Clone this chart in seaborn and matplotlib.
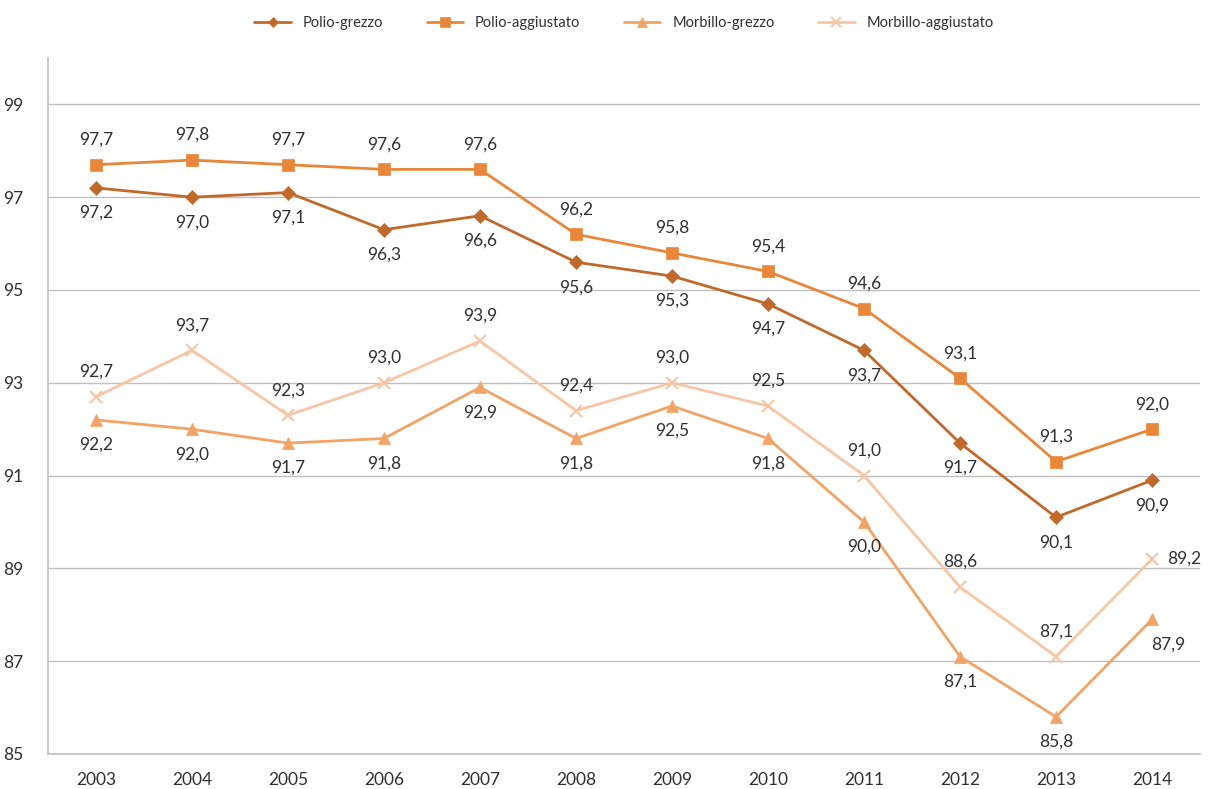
import seaborn as sns
import matplotlib.pyplot as plt
import pandas as pd

anni = ['2003', '2004', '2005', '2006', '2007', '2008', '2009', '2010', '2011', '2012', '2013', '2014']
polio_grezzo = [97.2, 97.0, 97.1, 96.3, 96.6, 95.6, 95.3, 94.7, 93.7, 91.7, 90.1, 90.9]
polio_aggiustato = [97.7, 97.8, 97.7, 97.6, 97.6, 96.2, 95.8, 95.4, 94.6, 93.1, 91.3, 92.0]
morbillo_grezzo = [92.2, 92.0, 91.7, 91.8, 92.9, 91.8, 92.5, 91.8, 90.0, 87.1, 85.8, 87.9]
morbillo_aggiustato = [92.7, 93.7, 92.3, 93.0, 93.9, 92.4, 93.0, 92.5, 91.0, 88.6, 87.1, 89.2]

serie = {
    'Polio-grezzo': polio_grezzo,
    'Polio-aggiustato': polio_aggiustato,
    'Morbillo-grezzo': morbillo_grezzo,
    'Morbillo-aggiustato': morbillo_aggiustato,
}
colori = {'Polio-grezzo': '#C0692B', 'Polio-aggiustato': '#E8873A',
          'Morbillo-grezzo': '#F2A366', 'Morbillo-aggiustato': '#F6C6A6'}
marker = {'Polio-grezzo': 'D', 'Polio-aggiustato': 's',
          'Morbillo-grezzo': '^', 'Morbillo-aggiustato': 'x'}
msize = {'Polio-grezzo': 7, 'Polio-aggiustato': 9,
         'Morbillo-grezzo': 9, 'Morbillo-aggiustato': 9}
# etichette sopra (+) o sotto (-)
verso = {'Polio-grezzo': -1, 'Polio-aggiustato': 1,
         'Morbillo-grezzo': -1, 'Morbillo-aggiustato': 1}

righe = []
for nome, valori in serie.items():
    for i, v in enumerate(valori):
        righe.append({'anno': i, 'valore': v, 'serie': nome})
df = pd.DataFrame(righe)

sns.set_style('white')
plt.rcParams['font.family'] = ['Lato', 'DejaVu Sans']
testo = '#303030'

fig = plt.figure(figsize=(12.08, 7.89), dpi=100)
ax = fig.add_axes([48 / 1208, 1 - 754 / 789, 1152 / 1208, 696 / 789])

for nome in serie:
    sub = df[df['serie'] == nome]
    sns.lineplot(data=sub, x='anno', y='valore', ax=ax, color=colori[nome],
                 marker=marker[nome], markersize=msize[nome], linewidth=2,
                 markeredgecolor=colori[nome], markeredgewidth=1.5 if nome == 'Morbillo-aggiustato' else 0.5,
                 label=nome, zorder=3)
    for i, v in enumerate(serie[nome]):
        dx, dy = 0, 18 * verso[nome]
        if nome == 'Morbillo-aggiustato' and i == len(anni) - 1:
            dx, dy = 23, 0
        elif nome == 'Morbillo-grezzo' and i == len(anni) - 1:
            dx, dy = 12, -18
        ax.annotate(f'{v:.1f}'.replace('.', ','), (i, v), xytext=(dx, dy),
                    textcoords='offset points', ha='center', va='center',
                    fontsize=12.5, color=testo)

ax.set_xlim(-0.5, len(anni) - 0.5)
ax.set_ylim(85, 100)
ax.set_yticks([85, 87, 89, 91, 93, 95, 97, 99])
ax.set_xticks(range(len(anni)))
ax.set_xticklabels(anni)
ax.set_xticks([i + 0.5 for i in range(-1, len(anni))], minor=True)
ax.tick_params(axis='x', which='major', length=0, pad=13, labelsize=12.5, colors=testo)
ax.tick_params(axis='x', which='minor', length=6, color='#BFBFBF', direction='out')
ax.tick_params(axis='y', length=6, color='#BFBFBF', labelsize=12.5, labelcolor=testo,
               direction='out', pad=12)
ax.yaxis.grid(True, color='#BFBFBF', linewidth=1)
ax.set_axisbelow(True)
ax.set_xlabel('')
ax.set_ylabel('')
for lato in ['top', 'right']:
    ax.spines[lato].set_visible(False)
for lato in ['left', 'bottom']:
    ax.spines[lato].set_color('#BFBFBF')
    ax.spines[lato].set_linewidth(1.2)

leg = ax.legend(loc='center', bbox_to_anchor=(0.5, 1.05), ncol=4, frameon=False,
                fontsize=10.5, handlelength=2.5, columnspacing=3, markerscale=0.8)
for t in leg.get_texts():
    t.set_color(testo)

fig.savefig('out.png', dpi=100)
